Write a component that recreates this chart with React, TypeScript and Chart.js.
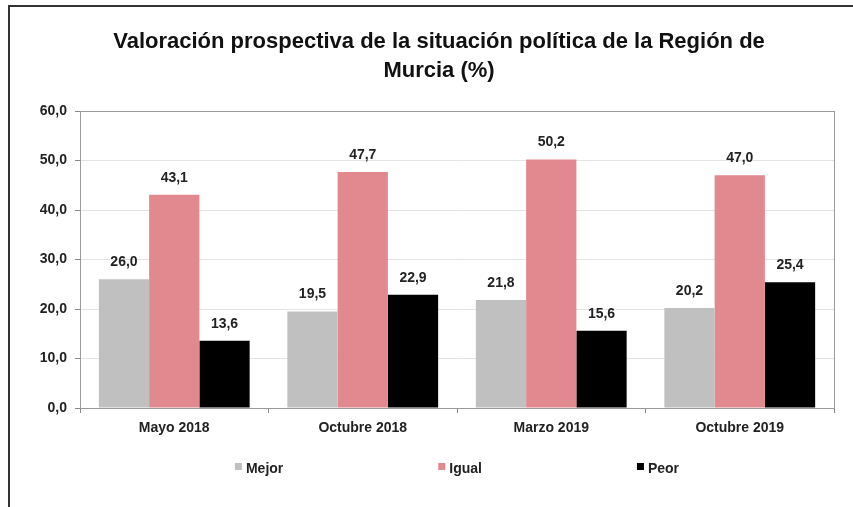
import React, { useEffect, useRef } from "react";
import { Chart, registerables } from "chart.js";

Chart.register(...registerables);

const categories = ["Mayo 2018", "Octubre 2018", "Marzo 2019", "Octubre 2019"];
const mejor = [26.0, 19.5, 21.8, 20.2];
const igual = [43.1, 47.7, 50.2, 47.0];
const peor = [13.6, 22.9, 15.6, 25.4];
const seriesLabels = ["Mejor", "Igual", "Peor"];
const seriesColors = ["#C0C0C0", "#E2888F", "#000000"];
const titleLines = [
  "Valoración prospectiva de la situación política de la Región de",
  "Murcia (%)",
];

const FONT = "'Liberation Sans', Arial, sans-serif";
const LBL = 14;
const fmt = (v: number) => v.toFixed(1).replace(".", ",");

const extrasPlugin = {
  id: "extras",
  afterDatasetsDraw(chart: any) {
    const { ctx, chartArea } = chart;
    ctx.save();
    // plot border
    ctx.strokeStyle = "#9a9a9a";
    ctx.lineWidth = 1;
    ctx.strokeRect(chartArea.left + 0.5, chartArea.top + 0.5, chartArea.right - chartArea.left, chartArea.bottom - chartArea.top);
    // data labels
    ctx.fillStyle = "#222";
    ctx.font = `bold ${LBL}px ${FONT}`;
    ctx.textAlign = "center";
    ctx.textBaseline = "bottom";
    chart.data.datasets.forEach((ds: any, i: number) => {
      const meta = chart.getDatasetMeta(i);
      meta.data.forEach((el: any, j: number) => {
        ctx.fillText(fmt(ds.data[j]), el.x, el.y - 10);
      });
    });
    ctx.restore();
  },
  afterDraw(chart: any) {
    const { ctx, chartArea } = chart;
    ctx.save();
    // title
    ctx.fillStyle = "#111";
    ctx.font = `bold 22px ${FONT}`;
    ctx.textAlign = "center";
    ctx.textBaseline = "middle";
    titleLines.forEach((line, i) => {
      ctx.fillText(line, 439, 42 + i * 29);
    });
    // legend
    ctx.font = `bold ${LBL}px ${FONT}`;
    ctx.textAlign = "left";
    const box = 7;
    const gap = 155;
    const widths = seriesLabels.map((t) => box + 4 + ctx.measureText(t).width);
    const total = widths.reduce((a, b) => a + b, 0) + gap * (widths.length - 1);
    let x = (chartArea.left + chartArea.right) / 2 - total / 2;
    const y = 468;
    seriesLabels.forEach((t, i) => {
      ctx.fillStyle = seriesColors[i];
      ctx.fillRect(x, y - 5, box, box);
      ctx.fillStyle = "#222";
      ctx.fillText(t, x + box + 4, y + 1);
      x += widths[i] + gap;
    });
    ctx.restore();
  },
};

export default function App() {
  const ref = useRef<HTMLCanvasElement>(null);
  useEffect(() => {
    if (!ref.current) return;
    const chart = new Chart(ref.current, {
      type: "bar",
      data: {
        labels: categories,
        datasets: [
          { label: seriesLabels[0], data: mejor, backgroundColor: seriesColors[0] },
          { label: seriesLabels[1], data: igual, backgroundColor: seriesColors[1] },
          { label: seriesLabels[2], data: peor, backgroundColor: seriesColors[2] },
        ],
      },
      options: {
        responsive: false,
        animation: false,
        devicePixelRatio: 1,
        layout: { padding: { left: 10, right: 19, top: 111, bottom: 59 } },
        datasets: { bar: { categoryPercentage: 0.8, barPercentage: 1.0 } },
        plugins: {
          legend: { display: false },
          title: { display: false },
          tooltip: { enabled: false },
        },
        scales: {
          x: {
            afterFit: (s: any) => { s.height = 40; },
            grid: { drawOnChartArea: false, tickLength: 5, tickColor: "#888", offset: true },
            border: { color: "#888" },
            ticks: { color: "#222", font: { family: FONT, size: LBL, weight: "bold" }, padding: 7 },
          },
          y: {
            min: 0,
            max: 60,
            afterFit: (s: any) => { s.width = 70; },
            grid: { color: "#e3e3e3", tickLength: 5, tickColor: "#888" },
            border: { color: "#888" },
            ticks: {
              stepSize: 10,
              color: "#222",
              padding: 8,
              font: { family: FONT, size: LBL, weight: "bold" },
              callback: (v: any) => fmt(Number(v)),
            },
          },
        },
      },
      plugins: [extrasPlugin],
    });
    return () => chart.destroy();
  }, []);

  return (
    <div style={{ position: "fixed", left: 0, top: 0, width: 853, height: 507, overflow: "hidden", background: "#fff" }}>
      <div style={{ position: "absolute", left: 8, top: 5, width: 900, height: 600, borderLeft: "2px solid #333", borderTop: "2px solid #333" }} />
      <canvas ref={ref} width={853} height={507} style={{ position: "absolute", left: 0, top: 0 }} />
    </div>
  );
}
